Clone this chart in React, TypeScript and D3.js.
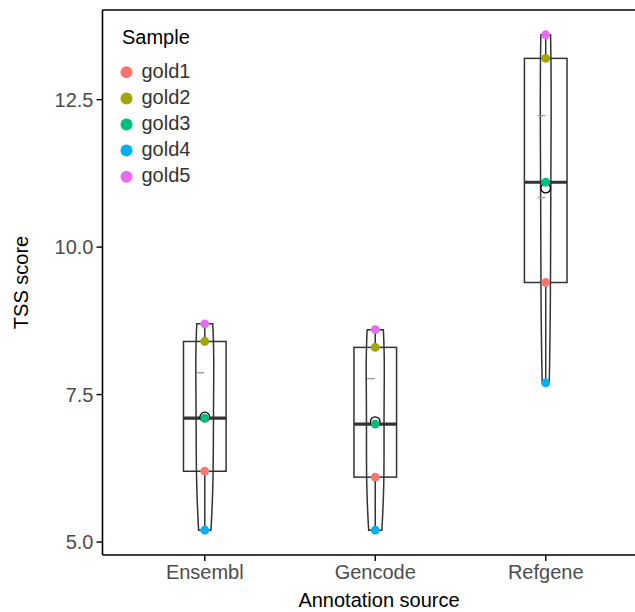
import React from "react";
import * as d3 from "d3";

const categories = ["Ensembl", "Gencode", "Refgene"];
const samples = ["gold1", "gold2", "gold3", "gold4", "gold5"];
const sampleColors = ["#F8766D", "#A3A500", "#00BF7D", "#00B0F6", "#E76BF3"];
const ensemblScores = [6.2, 8.4, 7.1, 5.2, 8.7];
const gencodeScores = [6.1, 8.3, 7.0, 5.2, 8.6];
const refgeneScores = [9.4, 13.2, 11.1, 7.7, 13.6];
const greyMarks = [[7.87], [7.77], [12.23, 10.84]];
const yTicks = [5.0, 7.5, 10.0, 12.5];
const xTitle = "Annotation source";
const yTitle = "TSS score";
const legendTitle = "Sample";

const W = 635;
const H = 612;
const panel = { left: 102.5, top: 10, right: 648, bottom: 555 };
const FONT = "'Liberation Sans', Arial, Helvetica, sans-serif";
const FS = 20;

function nrd0(v: number[]) {
  const s = [...v].sort(d3.ascending);
  const sd = d3.deviation(s) as number;
  const iqr = (d3.quantile(s, 0.75) as number) - (d3.quantile(s, 0.25) as number);
  const lo = Math.min(sd, iqr / 1.34);
  return 0.9 * lo * Math.pow(s.length, -0.2);
}

function kde(v: number[]) {
  const bw = nrd0(v);
  const mn = d3.min(v) as number;
  const mx = d3.max(v) as number;
  const n = 512;
  const pts: [number, number][] = [];
  for (let i = 0; i < n; i++) {
    const y = mn + ((mx - mn) * i) / (n - 1);
    let s = 0;
    for (const x of v) {
      const z = (y - x) / bw;
      s += Math.exp(-0.5 * z * z) / Math.sqrt(2 * Math.PI);
    }
    pts.push([y, s / (v.length * bw)]);
  }
  return pts;
}

export default function App() {
  const groups = [ensemblScores, gencodeScores, refgeneScores];
  const allVals = groups.flat();
  const vmin = d3.min(allVals) as number;
  const vmax = d3.max(allVals) as number;
  const pad = (vmax - vmin) * 0.05;
  const y = d3.scaleLinear().domain([vmin - pad, vmax + pad]).range([panel.bottom, panel.top]);
  const x = d3.scalePoint<string>().domain(categories).range([panel.left, panel.right]).padding(0.6);
  const step = x.step();
  const boxHalf = step * 0.125;
  const violinHalf = step * 0.053;

  const dens = groups.map(kde);
  const maxD = d3.max(dens.flat(), (d) => d[1]) as number;

  const line = d3.line<[number, number]>().x((d) => d[0]).y((d) => d[1]);

  return (
    <svg width={W} height={H} style={{ position: "absolute", left: 0, top: 0, background: "#fff", overflow: "hidden" }} fontFamily={FONT}>
      <rect x={0} y={0} width={W} height={H} fill="#fff" />
      {groups.map((vals, gi) => {
        const cx = x(categories[gi]) as number;
        const s = [...vals].sort(d3.ascending);
        const q1 = d3.quantile(s, 0.25) as number;
        const med = d3.quantile(s, 0.5) as number;
        const q3 = d3.quantile(s, 0.75) as number;
        const iqr = q3 - q1;
        const lowW = d3.min(s.filter((v) => v >= q1 - 1.5 * iqr)) as number;
        const highW = d3.max(s.filter((v) => v <= q3 + 1.5 * iqr)) as number;
        const mean = d3.mean(vals) as number;
        const d = dens[gi];
        const left = d.map(([v, dd]) => [cx - (dd / maxD) * violinHalf, y(v)] as [number, number]);
        const right = d.map(([v, dd]) => [cx + (dd / maxD) * violinHalf, y(v)] as [number, number]).reverse();
        const path = line([...left, ...right]) + "Z";
        return (
          <g key={categories[gi]}>
            <path d={path} fill="#fff" stroke="#333333" strokeWidth={1.5} />
            <rect x={cx - boxHalf} y={y(q3)} width={boxHalf * 2} height={y(q1) - y(q3)} fill="none" stroke="#333333" strokeWidth={1.5} />
            <line x1={cx - boxHalf} x2={cx + boxHalf} y1={y(med)} y2={y(med)} stroke="#333333" strokeWidth={3.2} />
            <line x1={cx} x2={cx} y1={y(q3)} y2={y(highW)} stroke="#333333" strokeWidth={1.5} />
            <line x1={cx} x2={cx} y1={y(q1)} y2={y(lowW)} stroke="#333333" strokeWidth={1.5} />
            {greyMarks[gi].map((m, mi) => (
              <line key={mi} x1={cx - 8} x2={cx - 0.5} y1={y(m)} y2={y(m)} stroke="#999999" strokeWidth={1.3} />
            ))}
            <circle cx={cx} cy={y(mean)} r={4.8} fill="#fff" stroke="#000" strokeWidth={1.3} />
            {vals.map((v, si) => (
              <circle key={si} cx={cx} cy={y(v)} r={4.4} fill={sampleColors[si]} />
            ))}
          </g>
        );
      })}
      <line x1={panel.left} x2={panel.left} y1={panel.top} y2={panel.bottom} stroke="#000" strokeWidth={1.6} />
      <line x1={panel.left} x2={W + 5} y1={panel.top} y2={panel.top} stroke="#000" strokeWidth={1.6} />
      <line x1={panel.left} x2={W + 5} y1={panel.bottom} y2={panel.bottom} stroke="#000" strokeWidth={1.6} />
      {yTicks.map((t) => (
        <g key={t}>
          <line x1={panel.left - 6} x2={panel.left} y1={y(t)} y2={y(t)} stroke="#000" strokeWidth={1.4} />
          <text x={panel.left - 9} y={y(t)} dy="0.35em" textAnchor="end" fontSize={FS} fill="#4D4D4D">
            {d3.format(".1f")(t)}
          </text>
        </g>
      ))}
      {categories.map((c) => (
        <g key={c}>
          <line x1={x(c)} x2={x(c)} y1={panel.bottom} y2={panel.bottom + 6} stroke="#000" strokeWidth={1.4} />
          <text x={x(c)} y={panel.bottom + 24} textAnchor="middle" fontSize={FS} fill="#4D4D4D">
            {c}
          </text>
        </g>
      ))}
      <text x={379} y={607} textAnchor="middle" fontSize={FS} fill="#000">
        {xTitle}
      </text>
      <text transform={`translate(28, ${(panel.top + panel.bottom) / 2}) rotate(-90)`} textAnchor="middle" fontSize={FS} fill="#000">
        {yTitle}
      </text>
      <text x={122} y={44} fontSize={FS} fill="#000">
        {legendTitle}
      </text>
      {samples.map((s, i) => (
        <g key={s}>
          <circle cx={126.5} cy={72.3 + i * 26.1} r={6} fill={sampleColors[i]} />
          <text x={141.5} y={72.3 + i * 26.1 + 5.5} fontSize={FS} fill="#333333">
            {s}
          </text>
        </g>
      ))}
    </svg>
  );
}
